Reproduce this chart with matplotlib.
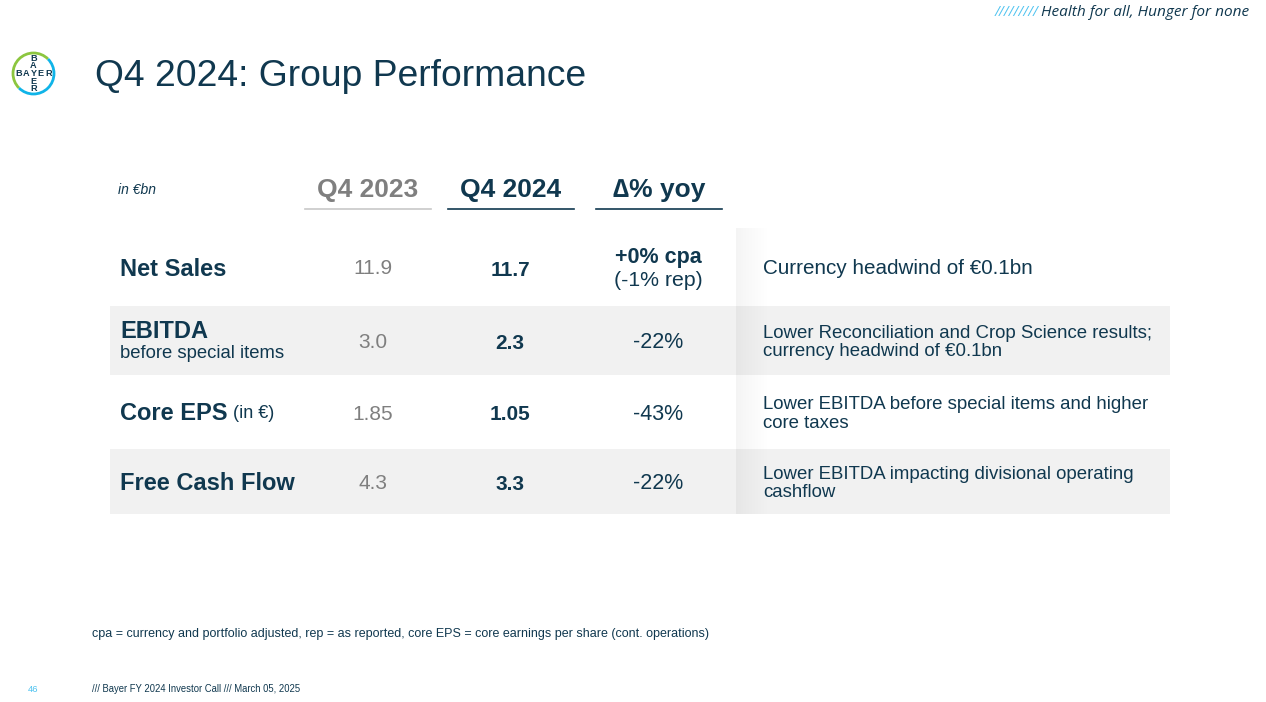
import numpy as np
import matplotlib.pyplot as plt
from matplotlib.patches import Rectangle, Arc

plt.rcParams['font.family'] = ['Liberation Sans', 'DejaVu Sans']

# table content
metrics = ["Net Sales", "EBITDA", "Core EPS", "Free Cash Flow"]
metric_notes = ["", "before special items", "(in €)", ""]
q4_2023 = [11.9, 3.0, 1.85, 4.3]
q4_2024 = [11.7, 2.3, 1.05, 3.3]
q4_fmt = ["{:.1f}", "{:.1f}", "{:.2f}", "{:.1f}"]
delta_main = ["+0% cpa", "-22%", "-43%", "-22%"]
delta_sub = ["(-1% rep)", "", "", ""]
comments = ["Currency headwind of €0.1bn",
            "Lower Reconciliation and Crop Science results;\ncurrency headwind of €0.1bn",
            "Lower EBITDA before special items and higher\ncore taxes",
            "Lower EBITDA impacting divisional operating\ncashflow"]
comment_size = [14.9, 13.4, 13.4, 13.4]
headers = ["Q4 2023", "Q4 2024", "∆% yoy"]

NAVY = "#10384f"
GREY = "#7f7f7f"
BAND = "#f1f1f1"
BLUE = "#4fc3f0"

fig = plt.figure(figsize=(12.66, 7.02), dpi=100)
ax = fig.add_axes([0, 0, 1, 1])
ax.set_xlim(0, 1266)
ax.set_ylim(702, 0)
ax.axis("off")

# top tagline
ax.text(1038, 12, "/////////", color=BLUE, fontsize=10, style="italic",
        family="Open Sans", ha="right", va="center")
ax.text(1041, 12, "Health for all, Hunger for none", color=NAVY, fontsize=11.1,
        style="italic", family="Open Sans", ha="left", va="center")

# logo
cx, cy, r = 33.5, 73.5, 20.5
ax.add_patch(Arc((cx, cy), 2 * r, 2 * r, theta1=135, theta2=315, color="#8cc63f", lw=2.0))
ax.add_patch(Arc((cx, cy), 2 * r, 2 * r, theta1=-45, theta2=135, color="#10b4e8", lw=2.0))
offs = [-14, -7, 0, 7, 14]
for ch, d in zip("BAYER", offs):
    ax.text(cx + d * 1.05, cy, ch, fontsize=6.6, fontweight="bold", color=NAVY,
            ha="center", va="center")
    if d != 0:
        ax.text(cx, cy + d * 1.1, ch, fontsize=6.6, fontweight="bold", color=NAVY,
                ha="center", va="center")

# title
ax.text(95, 77, "Q4 2024: Group Performance", fontsize=26.8, color=NAVY, va="center")

# header row
ax.text(118, 190, "in €bn", fontsize=10, style="italic", color=NAVY, va="center")
col_x = [368, 511, 659]
hdr_colors = [GREY, NAVY, NAVY]
line_colors = ["#c8c8c8", NAVY, NAVY]
for x, h, c, lc in zip(col_x, headers, hdr_colors, line_colors):
    ax.text(x, 190, h, fontsize=19, fontweight="bold", color=c, ha="center", va="center")
    ax.plot([x - 63, x + 63], [209, 209], color=lc, lw=1.2)

# row bands
row_top = [228, 306, 375, 449]
row_bot = [306, 375, 449, 514]
for i in range(len(metrics)):
    if i % 2 == 1:
        ax.add_patch(Rectangle((110, row_top[i]), 1060, row_bot[i] - row_top[i],
                               color=BAND, lw=0, zorder=0))

# soft shadow in front of comment column
grad = np.linspace(0.045, 0.0, 60).reshape(1, -1)
shade = np.zeros((1, 60, 4))
shade[..., 3] = grad
ax.imshow(shade, extent=(736, 770, 514, 228), aspect="auto", zorder=0.5,
          interpolation="bilinear")

row_cy = [(t + b) / 2 for t, b in zip(row_top, row_bot)]
for i, m in enumerate(metrics):
    y = row_cy[i]
    if m == "EBITDA":
        ax.text(120, y - 9, m, fontsize=17, fontweight="bold", color=NAVY, va="center")
        ax.text(120, y + 13, metric_notes[i], fontsize=13.3, color=NAVY, va="center")
    else:
        t = ax.text(120, y + 2, m, fontsize=17, fontweight="bold", color=NAVY, va="center")
        if metric_notes[i]:
            ax.annotate(" " + metric_notes[i], xycoords=t, xy=(1, 0.5), fontsize=13,
                        color=NAVY, va="center", ha="left")
    ax.text(373, y + 2, q4_fmt[i].format(q4_2023[i]), fontsize=15, color=GREY,
            ha="center", va="center")
    ax.text(510, y + 3, q4_fmt[i].format(q4_2024[i]), fontsize=15, fontweight="bold",
            color=NAVY, ha="center", va="center")
    if delta_sub[i]:
        ax.text(658, y - 9, delta_main[i], fontsize=15.5, fontweight="bold", color=NAVY,
                ha="center", va="center")
        ax.text(658, y + 13, delta_sub[i], fontsize=15.3, color=NAVY, ha="center", va="center")
    else:
        ax.text(658, y + 2, delta_main[i], fontsize=15.5, color=NAVY, ha="center", va="center")
    ax.text(763, y + 2, comments[i], fontsize=comment_size[i], color=NAVY, va="center",
            linespacing=1.1)

# footnote and footer
ax.text(92, 634, "cpa = currency and portfolio adjusted, rep = as reported, "
        "core EPS = core earnings per share (cont. operations)",
        fontsize=9.0, color=NAVY, va="center")
ax.text(33, 689, "46", fontsize=6.8, color=BLUE, ha="center", va="center")
ax.text(92, 689, "/// Bayer FY 2024 Investor Call /// March 05, 2025", fontsize=6.85,
        color=NAVY, va="center")

fig.savefig("out.png", dpi=100)
